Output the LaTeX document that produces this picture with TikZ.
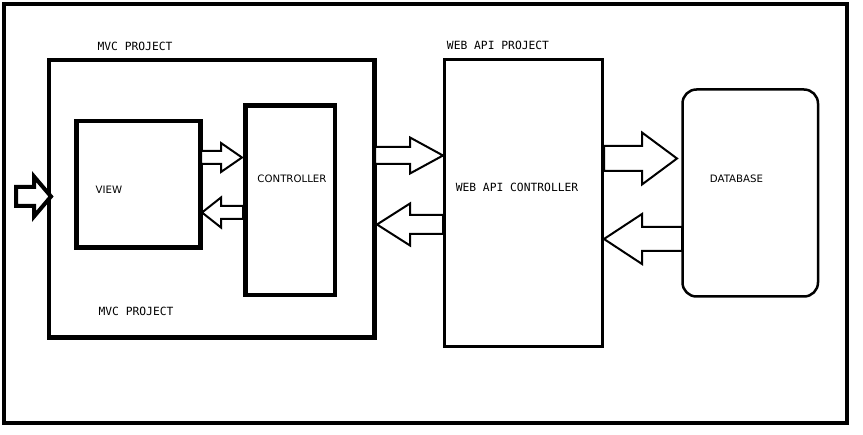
\documentclass[tikz,border=0pt]{standalone}
\usepackage{fontspec}
\newfontfamily\monof{DejaVu Sans Mono}
\newfontfamily\sansf{DejaVu Sans}
\newcommand\blkarrow[7]{%
  \draw[#1] ({#2},{#5-#6}) -- ({#3},{#5-#6}) -- ({#3},{#5-#7}) -- ({#4},{#5})
    -- ({#3},{#5+#7}) -- ({#3},{#5+#6}) -- ({#2},{#5+#6}) -- cycle;}
\tikzset{
  boxsq/.style={draw, rectangle, inner sep=0pt},
  monolbl/.style={inner sep=0pt, font=\monof\fontsize{11.3}{12}\selectfont},
  sanslbl/.style={inner sep=0pt, font=\sansf\fontsize{10.2}{12}\selectfont},
  barrow/.style={draw, fill=white, line join=miter, line width=2pt},
}
\begin{document}
\begin{tikzpicture}[x=1pt, y=-1pt]
\useasboundingbox (0,0) rectangle (863,435);
% outer frame
\node[boxsq, line width=4pt, minimum width=843pt, minimum height=419pt] (frame) at (425.5,213.5) {};
% MVC project box
\node[boxsq, line width=4.5pt, minimum width=325.5pt, minimum height=277.5pt] (mvc) at (211.75,198.75) {};
% view
\node[boxsq, line width=4.5pt, minimum width=124pt, minimum height=126.5pt] (view) at (138.5,184.25) {};
% controller
\node[boxsq, line width=4.5pt, minimum width=89.5pt, minimum height=189.5pt] (ctrl) at (290.25,200.25) {};
% web api box
\node[boxsq, line width=3pt, minimum width=158pt, minimum height=287pt] (api) at (523.5,203) {};
% database
\node[boxsq, line width=2.5pt, rounded corners=14pt, minimum width=135.5pt, minimum height=207pt] (db) at (750.25,193) {};

% labels
\node[monolbl] (mvct) at (135,46) {MVC PROJECT};
\node[monolbl] (mvcb) at (136,311) {MVC PROJECT};
\node[monolbl] (apit) at (498,45) {WEB API PROJECT};
\node[monolbl] (apic) at (517,187) {WEB API CONTROLLER};
\node[sanslbl] (viewt) at (109,190) {VIEW};
\node[sanslbl] (ctrlt) at (292,179) {CONTROLLER};
\node[sanslbl] (dbt) at (736.5,179) {DATABASE};

% block arrows
\blkarrow{barrow, line width=4pt}{16}{34}{51}{196.5}{9.5}{20}
\blkarrow{barrow}{201}{221}{242}{157.5}{6.5}{14.5}
\blkarrow{barrow}{243}{221}{202}{212.5}{6.5}{15}
\blkarrow{barrow}{375}{410}{443}{155.5}{8.5}{18}
\blkarrow{barrow}{443}{410}{377}{224.5}{9.5}{21}
\blkarrow{barrow}{604}{642}{677}{158.5}{12.5}{26}
\blkarrow{barrow}{682}{642}{604}{239}{12}{25}
\end{tikzpicture}
\end{document}
